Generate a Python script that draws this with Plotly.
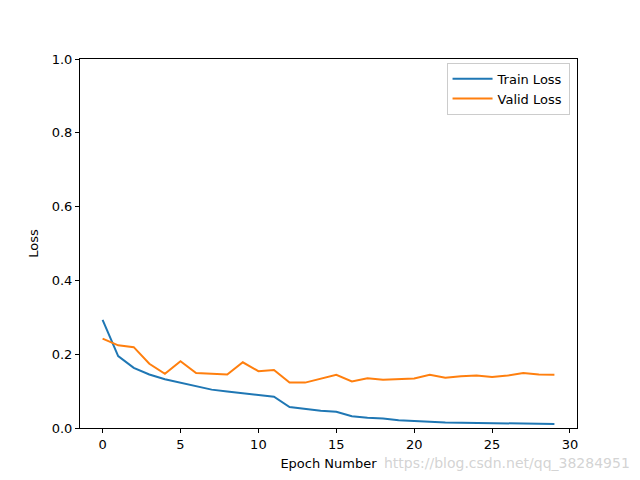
import plotly.graph_objects as go

epochs = list(range(30))
train_loss = [0.293, 0.195, 0.163, 0.145, 0.132, 0.122, 0.112, 0.104, 0.099, 0.095,
              0.089, 0.085, 0.057, 0.051, 0.047, 0.044, 0.032, 0.028, 0.026, 0.021,
              0.018, 0.017, 0.015, 0.014, 0.0135, 0.013, 0.0125, 0.012, 0.0115, 0.011]
valid_loss = [0.242, 0.224, 0.219, 0.174, 0.147, 0.181, 0.149, 0.146, 0.145, 0.178,
              0.154, 0.157, 0.123, 0.123, 0.133, 0.144, 0.126, 0.135, 0.131, 0.132,
              0.134, 0.144, 0.136, 0.140, 0.142, 0.138, 0.142, 0.149, 0.145, 0.144]
x_ticks = [0, 5, 10, 15, 20, 25, 30]
y_ticks = [0.0, 0.2, 0.4, 0.6, 0.8, 1.0]

fig = go.Figure()
fig.add_trace(go.Scatter(x=epochs, y=train_loss, mode="lines", name="Train Loss",
                         line=dict(color="#1f77b4", width=2)))
fig.add_trace(go.Scatter(x=epochs, y=valid_loss, mode="lines", name="Valid Loss",
                         line=dict(color="#ff7f0e", width=2)))

axis_common = dict(showline=True, linecolor="black", linewidth=1, mirror=True,
                   ticks="outside", ticklen=4, tickcolor="black", showgrid=False,
                   zeroline=False, tickfont=dict(size=13, color="black"))

fig.update_xaxes(range=[-1.45, 30.45], tickvals=x_ticks,
                 title=dict(text="Epoch Number", font=dict(size=13, color="black"), standoff=8),
                 **axis_common)
fig.update_yaxes(range=[0, 1.0], tickvals=y_ticks, tickformat=".1f",
                 title=dict(text="Loss", font=dict(size=13, color="black"), standoff=10),
                 **axis_common)

fig.update_layout(
    width=640, height=480,
    margin=dict(l=72, r=71, t=51, b=60),
    paper_bgcolor="white", plot_bgcolor="white",
    font=dict(family="DejaVu Sans", size=13, color="black"),
    legend=dict(x=0.985, y=0.99, xanchor="right", yanchor="top",
                bgcolor="rgba(255,255,255,0.8)", bordercolor="#cccccc", borderwidth=1,
                font=dict(size=13), tracegroupgap=0, itemwidth=40),
    showlegend=True,
)
fig.add_annotation(text="https://blog.csdn.net/qq_38284951", xref="paper", yref="paper",
                   x=1.111, y=-0.095, xanchor="right", yanchor="middle", showarrow=False,
                   font=dict(size=14, color="rgba(200,200,200,0.8)"))

fig.write_html("out.html")
